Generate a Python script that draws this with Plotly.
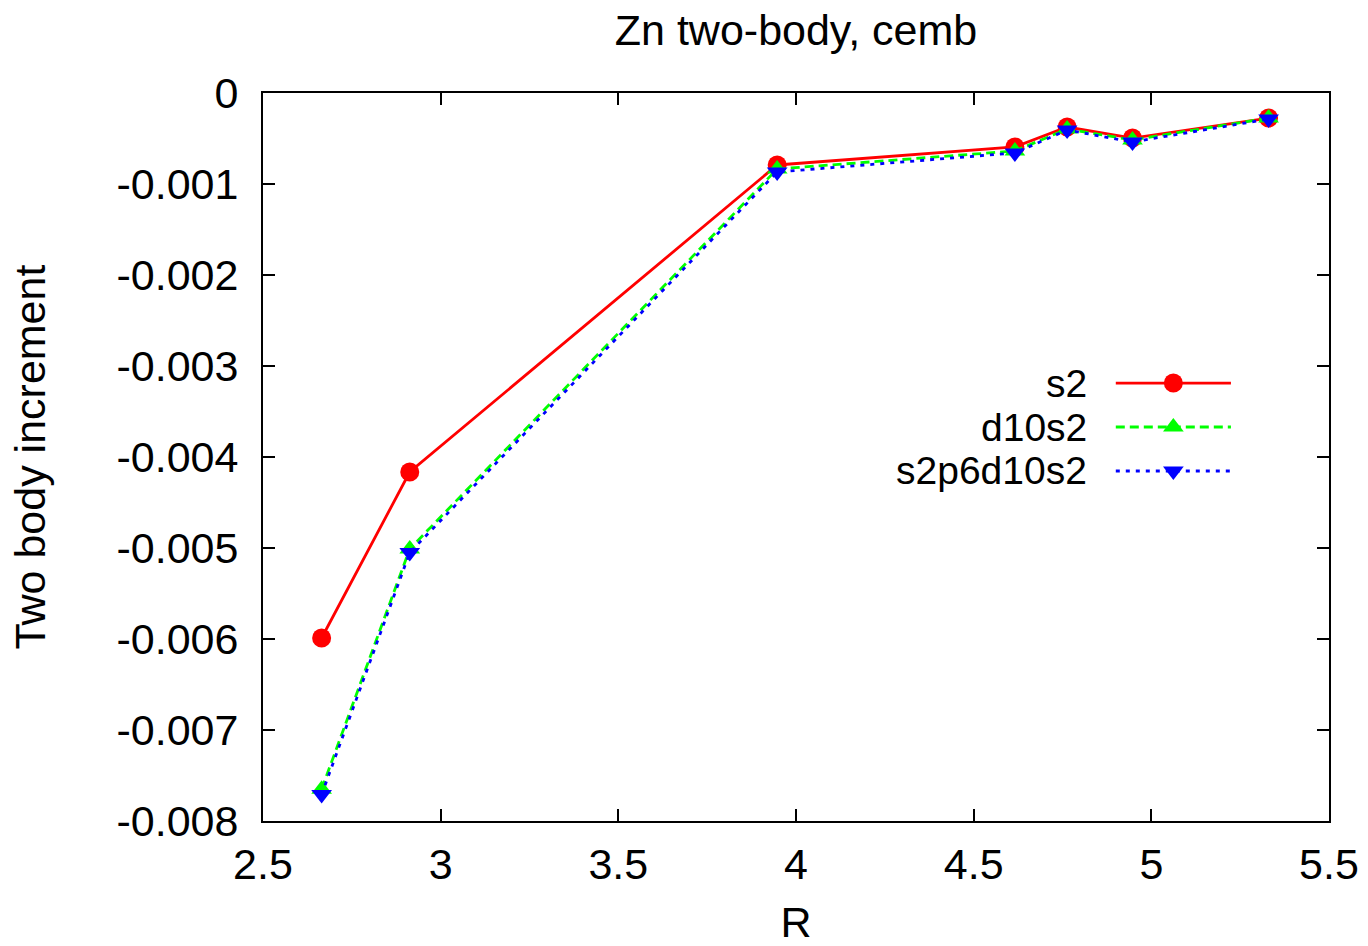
import plotly.graph_objects as go

# Data
R = [2.665, 2.913, 3.947, 4.616, 4.763, 4.947, 5.330]
s2 = [-0.005989, -0.004165, -0.000791, -0.000593, -0.000374, -0.000495, -0.000275]
d10s2 = [-0.00765, -0.00501, -0.000835, -0.000637, -0.000396, -0.000516, -0.000275]
s2p6d10s2 = [-0.00771, -0.00505, -0.000868, -0.000659, -0.000407, -0.000538, -0.000286]

names = ["s2", "d10s2", "s2p6d10s2"]
colors = ["#ff0000", "#00ff00", "#0000ff"]
symbols = ["circle", "triangle-up", "triangle-down"]
dashes = ["solid", "9px,5px", "4px,6px"]
msizes = [19, 18, 18]
series = [s2, d10s2, s2p6d10s2]

xticks = [2.5, 3, 3.5, 4, 4.5, 5, 5.5]
xticklabels = ["2.5", "3", "3.5", "4", "4.5", "5", "5.5"]
yticks = [0, -0.001, -0.002, -0.003, -0.004, -0.005, -0.006, -0.007, -0.008]
yticklabels = ["0", "-0.001", "-0.002", "-0.003", "-0.004", "-0.005", "-0.006", "-0.007", "-0.008"]

FONT = "Liberation Sans, Arial, sans-serif"
FS = 43
KEY_FS = 39

fig = go.Figure()
for n, c, sym, d, ms, ys in zip(names, colors, symbols, dashes, msizes, series):
    fig.add_trace(go.Scatter(
        x=R, y=ys, mode="lines+markers", name=n,
        line=dict(color=c, width=2.8, dash=d),
        marker=dict(symbol=sym, size=ms, color=c, line=dict(width=0)),
        showlegend=False,
    ))

# gnuplot-style key (text on the left, sample on the right), in paper fractions
key_x_text = 0.774
key_x0, key_x1, key_xm = 0.800, 0.908, 0.854
key_y = [0.6016, 0.5412, 0.4808]
for n, c, sym, d, ms, ky in zip(names, colors, symbols, dashes, msizes, key_y):
    fig.add_shape(type="line", xref="paper", yref="paper",
                  x0=key_x0, x1=key_x1, y0=ky, y1=ky,
                  line=dict(color=c, width=2.8, dash=d))
    fig.add_trace(go.Scatter(
        x=[key_xm], y=[ky], xaxis="x2", yaxis="y2", mode="markers",
        marker=dict(symbol=sym, size=ms, color=c, line=dict(width=0)),
        showlegend=False, hoverinfo="skip",
    ))
    fig.add_annotation(xref="paper", yref="paper", x=key_x_text, y=ky,
                       text=n, showarrow=False, xanchor="right", yanchor="middle",
                       borderpad=0,
                       font=dict(family=FONT, size=KEY_FS, color="black"))

axis_common = dict(
    showline=True, linecolor="black", linewidth=2, mirror="ticks",
    ticks="inside", ticklen=12, tickwidth=2, tickcolor="black",
    showgrid=False, zeroline=False, automargin=False,
    tickfont=dict(family=FONT, size=FS, color="black"),
)

fig.update_layout(
    width=1368, height=946,
    margin=dict(l=263, r=39, t=93, b=125),
    paper_bgcolor="white", plot_bgcolor="white",
    title=dict(text="Zn two-body, cemb", x=0.5, xref="paper", xanchor="center",
               y=1 - 30 / 946, yanchor="middle",
               font=dict(family=FONT, size=FS, color="black")),
    xaxis=dict(range=[2.5, 5.5], tickvals=xticks, ticktext=xticklabels,
               title=dict(text="R", font=dict(family=FONT, size=FS, color="black"), standoff=42),
               ticklabelstandoff=4, **axis_common),
    yaxis=dict(range=[-0.008, 0], tickvals=yticks, ticktext=yticklabels,
               title=dict(text="Two body increment", font=dict(family=FONT, size=FS, color="black"), standoff=57),
               ticklabelstandoff=14, **axis_common),
    xaxis2=dict(range=[0, 1], overlaying="x", visible=False, domain=[0, 1]),
    yaxis2=dict(range=[0, 1], overlaying="y", visible=False, domain=[0, 1]),
    showlegend=False,
)

fig.write_html("out.html")
